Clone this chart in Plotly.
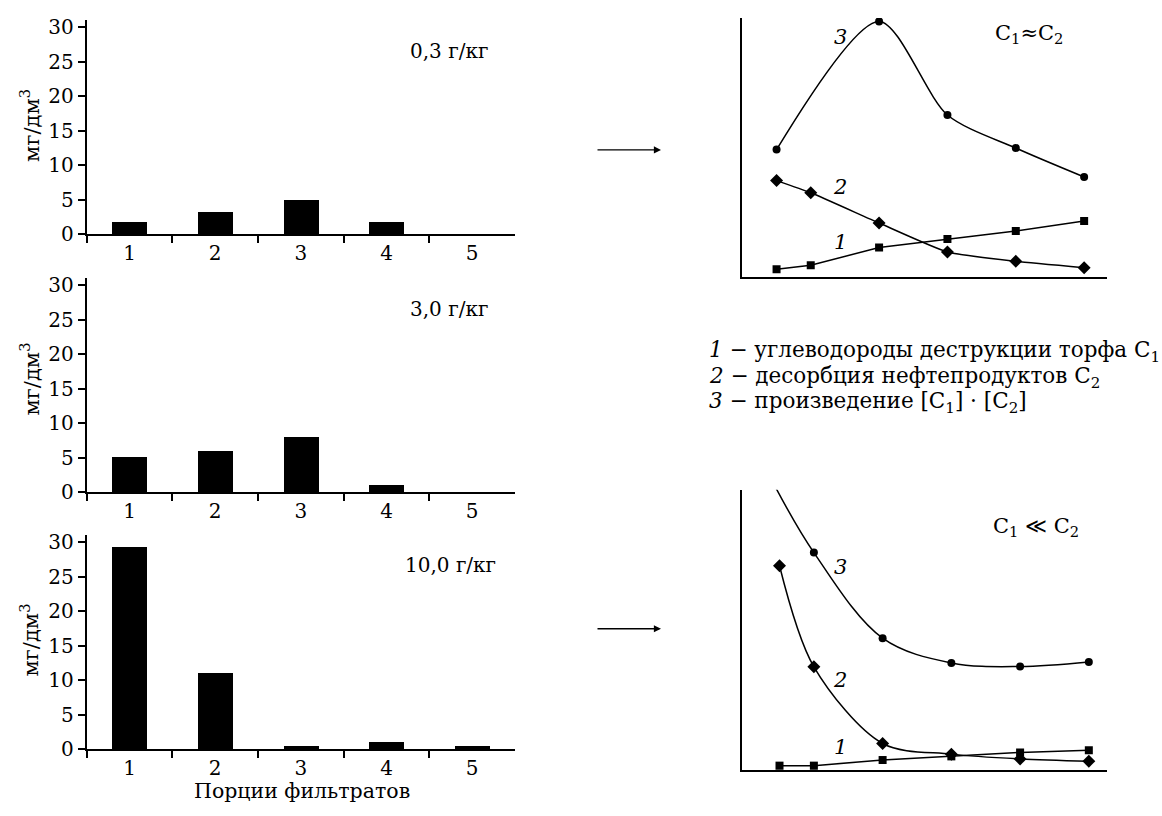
import plotly.graph_objects as go

W, H = 1162, 816

# ---------------- data ----------------
portions = ["1", "2", "3", "4", "5"]
dose_03 = [1.8, 3.3, 5.1, 1.9, 0.0]
dose_30 = [5.2, 6.0, 8.1, 1.2, 0.0]
dose_100 = [29.3, 11.0, 0.4, 1.0, 0.4]
panel_labels = ["0,3 г/кг", "3,0 г/кг", "10,0 г/кг"]
y_ticks = [0, 5, 10, 15, 20, 25, 30]

# schematic curves (arbitrary units)
x_sch = [0.5, 1, 2, 3, 4, 5]
top_c1 = [2.8, 4.4, 11.2, 14.5, 17.6, 21.5]
top_c2 = [37.1, 32.4, 20.7, 9.5, 5.9, 3.4]
top_prod_x = [0.5, 2, 3, 4, 5]
top_prod = [49.1, 98.7, 62.5, 49.7, 38.5]
bot_c1 = [1.7, 1.7, 3.7, 5.0, 6.4, 7.2]
bot_c2 = [72.9, 36.9, 9.6, 5.8, 4.1, 3.3]
bot_prod_x = [0.45, 1, 2, 3, 4, 5]
bot_prod = [100.5, 77.6, 47.1, 38.3, 37.0, 38.6]

legend_lines = [
    "<i>1</i> − углеводороды деструкции торфа C<sub>1</sub>",
    "<i>2</i> − десорбция нефтепродуктов C<sub>2</sub>",
    "<i>3</i> − произведение [C<sub>1</sub>] · [C<sub>2</sub>]",
]

FONT = "DejaVu Serif"


def px(xp):
    return xp / W


def py(yp):
    return 1 - yp / H


fig = go.Figure()

# ---------------- bar panels ----------------
for vals, ax in [(dose_03, ""), (dose_30, "2"), (dose_100, "3")]:
    fig.add_trace(go.Bar(x=portions, y=vals, width=0.41, marker_color="black",
                         marker_line_width=0, xaxis="x" + ax, yaxis="y" + ax,
                         showlegend=False))

# ---------------- schematic panels ----------------
line = dict(color="black", width=1.5)
# top
fig.add_trace(go.Scatter(x=x_sch, y=top_c1, mode="lines+markers", line=line,
                         marker=dict(symbol="square", size=8, color="black"),
                         xaxis="x4", yaxis="y4", showlegend=False))
fig.add_trace(go.Scatter(x=x_sch, y=top_c2, mode="lines+markers",
                         line=dict(color="black", width=1.5, shape="spline", smoothing=0.5),
                         marker=dict(symbol="diamond", size=10, color="black"),
                         xaxis="x4", yaxis="y4", showlegend=False))
fig.add_trace(go.Scatter(x=top_prod_x, y=top_prod, mode="lines+markers",
                         line=dict(color="black", width=1.5, shape="spline", smoothing=0.8),
                         marker=dict(symbol="circle", size=8, color="black"),
                         xaxis="x4", yaxis="y4", showlegend=False))
# bottom
fig.add_trace(go.Scatter(x=x_sch, y=bot_c1, mode="lines+markers", line=line,
                         marker=dict(symbol="square", size=8, color="black"),
                         xaxis="x5", yaxis="y5", showlegend=False))
fig.add_trace(go.Scatter(x=x_sch, y=bot_c2, mode="lines+markers",
                         line=dict(color="black", width=1.5, shape="spline", smoothing=0.9),
                         marker=dict(symbol="diamond", size=10, color="black"),
                         xaxis="x5", yaxis="y5", showlegend=False))
fig.add_trace(go.Scatter(x=bot_prod_x, y=bot_prod, mode="lines",
                         line=dict(color="black", width=1.5, shape="spline", smoothing=1.0),
                         xaxis="x5", yaxis="y5", showlegend=False))
fig.add_trace(go.Scatter(x=bot_prod_x[1:], y=bot_prod[1:], mode="markers",
                         marker=dict(symbol="circle", color="black", size=8),
                         xaxis="x5", yaxis="y5", showlegend=False))

# ---------------- axes ----------------
tickfont = dict(family=FONT, size=20, color="black")
left_dom = [px(86.7), px(515)]
bar_x = dict(domain=left_dom, type="category", range=[-0.5, 4.5], showline=True,
             linecolor="black", linewidth=1.8, ticks="outside", tickson="boundaries",
             ticklen=7, tickwidth=1.5, tickcolor="black", tickfont=tickfont,
             ticklabelstandoff=0, showgrid=False, zeroline=False, fixedrange=True)
bar_y = dict(range=[0, 31.1], tickvals=y_ticks, showline=True, linecolor="black",
             linewidth=1.8, ticks="outside", ticklen=7, tickwidth=1.5,
             tickcolor="black", tickfont=tickfont, showgrid=False, zeroline=False)

sch_x = dict(showline=True, linecolor="black", linewidth=1.8, showticklabels=False,
             ticks="", showgrid=False, zeroline=False)
sch_y = dict(range=[0, 100], showline=True, linecolor="black", linewidth=1.8,
             showticklabels=False, ticks="", showgrid=False, zeroline=False)

fig.update_layout(
    width=W, height=H, margin=dict(l=0, r=0, t=0, b=0),
    paper_bgcolor="white", plot_bgcolor="white", bargap=0,
    font=dict(family=FONT, color="black", size=20),
    xaxis=dict(bar_x, anchor="y"),
    yaxis=dict(bar_y, domain=[py(234.3), py(15)], anchor="x"),
    xaxis2=dict(bar_x, anchor="y2"),
    yaxis2=dict(bar_y, domain=[py(497.7), py(278.3)], anchor="x2"),
    xaxis3=dict(bar_x, anchor="y3"),
    yaxis3=dict(bar_y, domain=[py(760.3), py(541.7)], anchor="x3", range=[0, 31.0]),
    xaxis4=dict(sch_x, domain=[px(741.7), px(1106.7)], range=[-0.01, 5.33], anchor="y4"),
    yaxis4=dict(sch_y, domain=[py(277.3), py(13.3)], anchor="x4"),
    xaxis5=dict(sch_x, domain=[px(741.7), px(1106.7)], range=[-0.05, 5.26], anchor="y5"),
    yaxis5=dict(sch_y, domain=[py(781.7), py(495)], anchor="x5"),
)

ann = []


def text(t, x, y, size=20, xanchor="center", angle=0, yanchor="middle", pad=1):
    ann.append(dict(text=t, x=px(x), y=py(y), xref="paper", yref="paper",
                    showarrow=False, xanchor=xanchor, yanchor=yanchor,
                    textangle=angle, borderpad=pad,
                    font=dict(family=FONT, size=size, color="black")))


# panel labels
for lab, (xc, yc) in zip(panel_labels, [(449, 46.7), (449, 310), (450, 571.7)]):
    text(lab, xc, yc, size=20)
# y titles
for yc in [123.5, 382.5, 649]:
    text("мг/дм<sup>3</sup>", 30, yc, size=21, angle=-90)
# x title
text("Порции фильтратов", 301.7, 816, size=20.5, yanchor="bottom", pad=0)

# curve labels
for t, (xc, yc) in zip(["<i>3</i>", "<i>2</i>", "<i>1</i>"],
                       [(840, 32.3), (840, 185.7), (840.7, 241.7)]):
    text(t, xc, yc, size=21)
for t, (xc, yc) in zip(["<i>3</i>", "<i>2</i>", "<i>1</i>"],
                       [(840, 574.3), (840, 689.3), (840.7, 757.3)]):
    text(t, xc, yc, size=21)
text("C<sub>1</sub>≈C<sub>2</sub>", 1029, 30, size=21)
text("C<sub>1</sub> ≪ C<sub>2</sub>", 1036, 533, size=21)

# legend
for t, yc in zip(legend_lines, [354, 380, 406]):
    text(t, 707, yc, size=21.5, xanchor="left")

# arrows
for yc in [148, 637]:
    ann.append(dict(text="", x=px(661), y=py(yc), xref="paper", yref="paper",
                    ax=-65, ay=0, showarrow=True, arrowhead=2, arrowsize=1.1,
                    arrowwidth=1.3, arrowcolor="black", standoff=0))

fig.update_layout(annotations=ann)

fig.write_html("out.html", config={"displayModeBar": False},
               post_script="document.body.style.margin='0';")
